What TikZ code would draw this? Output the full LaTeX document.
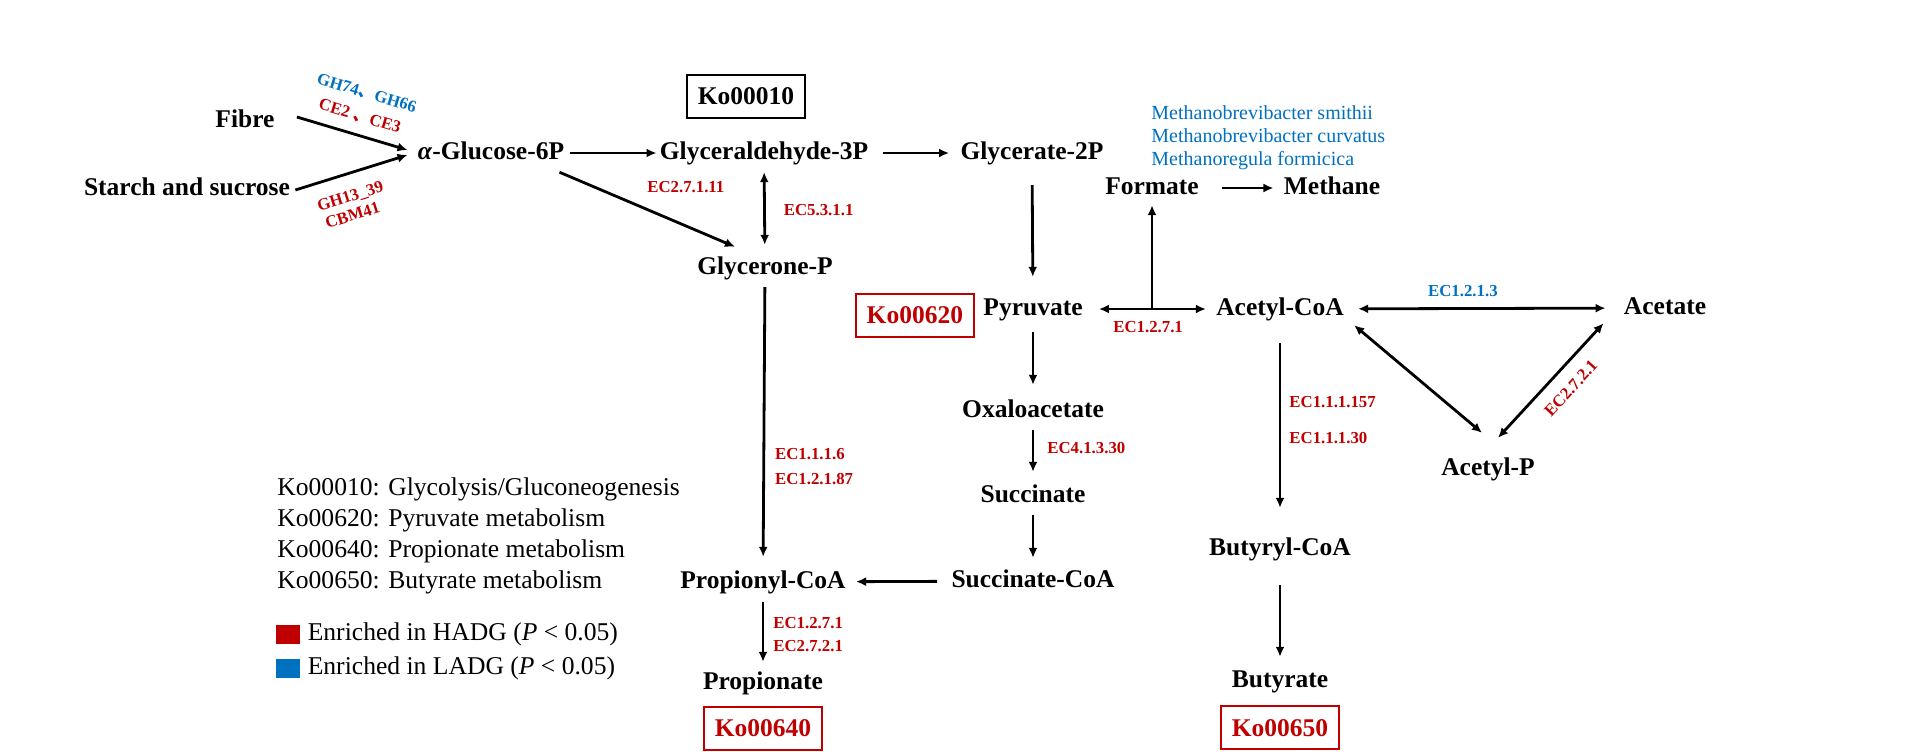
\documentclass[tikz,border=0pt]{standalone}
\usepackage{fontspec}
\setmainfont{Liberation Serif}
\newfontfamily\cjk{Noto Sans CJK SC}
\usetikzlibrary{arrows.meta,positioning}
\definecolor{hadgred}{RGB}{192,0,0}
\definecolor{ladgblue}{RGB}{0,112,192}
\tikzstyle{met}=[inner sep=0pt, text height=9pt, text depth=2.8pt, font=\fontsize{12.75}{15}\selectfont\bfseries]
\tikzstyle{ko}=[draw, line width=1pt, inner xsep=5.5pt, inner ysep=0pt, minimum height=21.5pt, font=\fontsize{12.75}{15}\selectfont\bfseries]
\tikzstyle{kor}=[ko, draw=hadgred, text=hadgred]
\tikzstyle{ec}=[inner sep=0pt, font=\fontsize{8.4}{12}\selectfont\bfseries, text=hadgred]
\tikzstyle{ecb}=[ec, text=ladgblue]
\tikzstyle{arr}=[-{Latex[length=5pt,width=4.5pt]}, line width=1.4pt]
\tikzstyle{darr}=[{Latex[length=5pt,width=4.5pt]}-{Latex[length=5pt,width=4.5pt]}, line width=1.4pt]
\tikzstyle{leg}=[inner sep=0pt, font=\fontsize{12.8}{15.5}\selectfont, align=left]
\tikzstyle{sq}=[inner sep=0pt, minimum width=12pt, minimum height=9.5pt]

\begin{document}
\begin{tikzpicture}[x=0.5pt, y=-0.5pt]
        \useasboundingbox (0,0) rectangle (1927,751);
        \node (fib) [met] at (245,121) {Fibre};
        \node (sta) [met] at (187,189) {Starch and sucrose};
        \node (glc) [met] at (491,153) {\textit{α}-Glucose-6P};
        \node (ko10) [ko] at (746,96) {Ko00010};
        \node (gap) [met] at (764,153) {Glyceraldehyde-3P};
        \node (g2p) [met] at (1032,153) {Glycerate-2P};
        \node (glyp) [met] at (765,268) {Glycerone-P};
        \node (formate) [met] at (1152,188) {Formate};
        \node (methane) [met] at (1332,188) {Methane};
        \node (meth) [inner sep=0pt, anchor=west, align=left, text=ladgblue, font=\fontsize{10}{11.5}\selectfont] at (1151,138) {Methanobrevibacter smithii\\Methanobrevibacter curvatus\\Methanoregula formicica};
        \node (pyr) [met] at (1033,309) {Pyruvate};
        \node (ko620) [kor, left=4pt of pyr, yshift=-3pt] {Ko00620};
        \node (acoa) [met] at (1280,309) {Acetyl-CoA};
        \node (acetate) [met] at (1665,308) {Acetate};
        \node (acp) [met] at (1488,469) {Acetyl-P};
        \node (oxa) [met] at (1033,411) {Oxaloacetate};
        \node (suc) [met] at (1033,496) {Succinate};
        \node (succoa) [met] at (1033,581) {Succinate-CoA};
        \node (propcoa) [met] at (763,582) {Propionyl-CoA};
        \node (prop) [met] at (763,683) {Propionate};
        \node (ko640) [kor, below=5.3pt of prop] {Ko00640};
        \node (bcoa) [met] at (1280,549) {Butyryl-CoA};
        \node (but) [met] at (1280,681) {Butyrate};
        \node (ko650) [kor, below=6pt of but] {Ko00650};
        \coordinate (br) at (formate |- pyr);

        \draw ([xshift=11pt,yshift=2pt]fib.east) edge[arr] node[ecb, sloped, above=17.5pt, pos=.52] {GH74{\cjk 、}GH66} node[ec, sloped, above=5.5pt, pos=.52] {CE2 {\cjk 、}CE3} ([xshift=-5pt,yshift=1.5pt]glc.west);
        \draw ([xshift=2.5pt,yshift=-0.5pt]sta.east) edge[arr] node[ec, sloped, below=7.5pt, pos=.43] {GH13\_39} node[ec, sloped, below=17pt, pos=.40] {CBM41} ([xshift=-5pt,yshift=-1pt]glc.west);
        \draw (glc) edge[arr, shorten <=3pt, shorten >=1.5pt] (gap);
        \draw (gap) edge[arr, shorten <=7pt, shorten >=5.5pt] (g2p);
        \draw ([xshift=-2.5pt,yshift=-3.5pt]glc.south east) edge[arr] node[ec, above=16pt, pos=.72] {EC2.7.1.11} ([xshift=-15pt,yshift=4.5pt]glyp.north);
        \draw (gap) edge[darr, shorten <=3.5pt, shorten >=5.5pt] node[ec, right=9pt] {EC5.3.1.1} (glyp);
        \draw (g2p) edge[arr, shorten <=10pt, shorten >=10pt] (pyr);
        \draw (glyp) edge[arr, shorten <=3.5pt, shorten >=6.5pt] node[ec, right=5pt, pos=.645, align=left, font=\fontsize{8.4}{12.5}\selectfont\bfseries] {EC1.1.1.6\\EC1.2.1.87} (propcoa);
        \draw (propcoa) edge[arr, shorten <=4pt, shorten >=4.5pt] node[ec, right=4.5pt, pos=.53, align=left, font=\fontsize{8.4}{11.5}\selectfont\bfseries] {EC1.2.7.1\\EC2.7.2.1} (prop);
        \draw (pyr) edge[darr, shorten <=8pt, shorten >=5pt] node[ec, below=5.5pt, pos=.49] {EC1.2.7.1} (acoa);
        \draw (br) edge[arr, shorten >=2.5pt] (formate);
        \draw (formate) edge[arr, shorten <=11.5pt, shorten >=5pt] (methane);
        \draw (acoa) edge[darr, shorten <=7pt, shorten >=9pt] node[ecb, above=5pt, pos=.425] {EC1.2.1.3} (acetate);
        \draw ([xshift=5pt,yshift=-2pt]acoa.south east) edge[darr] ([xshift=-3pt,yshift=12pt]acp.north);
        \draw ([xshift=5pt,yshift=9.5pt]acp.north) edge[darr] node[ec, sloped, below=6.5pt, pos=.55] {EC2.7.2.1} ([xshift=-10pt,yshift=-1.5pt]acetate.south west);
        \draw (pyr) edge[arr, shorten <=5.5pt, shorten >=7pt] (oxa);
        \draw (oxa) edge[arr, shorten <=3.5pt, shorten >=6pt] node[ec, right=6.5pt, pos=.41] {EC4.1.3.30} (suc);
        \draw (suc) edge[arr, shorten <=3.5pt, shorten >=5.5pt] (succoa);
        \draw (succoa) edge[arr, shorten <=7pt, shorten >=5pt] (propcoa);
        \draw (acoa) edge[arr, shorten <=11pt, shorten >=14.5pt] node[ec, right=4pt, pos=.458, align=left, font=\fontsize{8.4}{18}\selectfont\bfseries] {EC1.1.1.157\\EC1.1.1.30} (bcoa);
        \draw (bcoa) edge[arr, shorten <=12pt, shorten >=6pt] (but);

        \node (kos) [leg, anchor=west] at (277,536) {Ko00010: Glycolysis/Gluconeogenesis\\Ko00620: Pyruvate metabolism\\Ko00640: Propionate metabolism\\Ko00650: Butyrate metabolism};
        \node (hadg) [sq, fill=hadgred] at (288,634) {};
        \node (hadgt) [leg, right=3.5pt of hadg] {Enriched in HADG (\textit{P} < 0.05)};
        \node (ladg) [sq, fill=ladgblue] at (288,668.5) {};
        \node (ladgt) [leg, right=3.5pt of ladg] {Enriched in LADG (\textit{P} < 0.05)};
\end{tikzpicture}
\end{document}
